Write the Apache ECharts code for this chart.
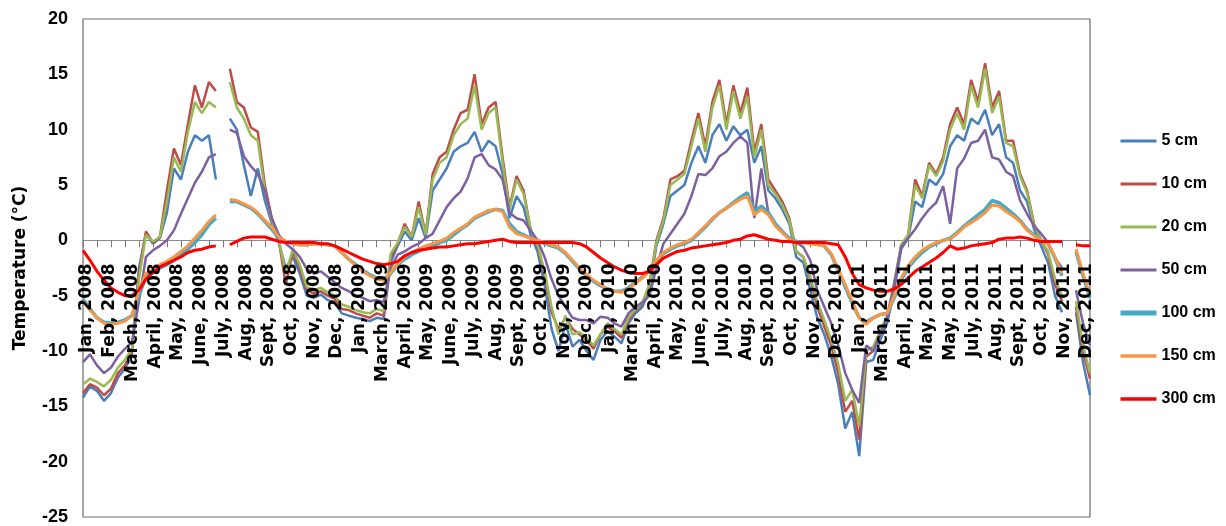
<!DOCTYPE html>
<html>
<head>
<meta charset="utf-8">
<style>
  html, body { margin: 0; padding: 0; background: #fff; }
  #chart { width: 1226px; height: 526px; }
</style>
<script src="https://cdn.jsdelivr.net/npm/echarts@6/dist/echarts.min.js"></script>
</head>
<body>
<div id="chart"></div>
<script>
// Month labels printed along the zero line
const monthLabels = [
  'Jan, 2008', 'Feb, 2008', 'March, 2008', 'April, 2008', 'May, 2008', 'June, 2008',
  'July, 2008', 'Aug, 2008', 'Sept, 2008', 'Oct, 2008', 'Nov, 2008', 'Dec, 2008',
  'Jan, 2009', 'March, 2009', 'April, 2009', 'May, 2009', 'June, 2009', 'July, 2009',
  'Aug, 2009', 'Sept, 2009', 'Oct, 2009', 'Nov, 2009', 'Dec, 2009',
  'Jan, 2010', 'March, 2010', 'April, 2010', 'May, 2010', 'June, 2010', 'July, 2010',
  'Aug, 2010', 'Sept, 2010', 'Oct, 2010', 'Nov, 2010', 'Dec, 2010',
  'Jan, 2011', 'March, 2011', 'April, 2011', 'May, 2011', 'May, 2011', 'July, 2011',
  'Aug, 2011', 'Sept, 2011', 'Oct, 2011', 'Nov, 2011', 'Dec, 2011'
];

const yTicks = { min: -25, max: 20, step: 5 };

// Soil temperature (°C) by depth, one value per observation step
const temp5cm = [
  -14.2, -13.2, -13.6, -14.5, -13.8, -12.4, -11.6, -10.3, -2.5, 0.6,
  -0.3, 0.2, 2.5, 6.5, 5.5, 8.0, 9.5, 9.0, 9.5, 5.5,
  null, 11.0, 10.0, 6.8, 4.0, 6.5, 3.6, 1.5, -0.2, -2.5,
  -1.5, -3.0, -5.0, -5.2, -4.9, -5.4, -5.6, -6.6, -6.8, -7.0,
  -7.1, -7.3, -7.0, -7.1, -2.0, -0.5, 0.8, 0.0, 2.0, 0.2,
  4.5, 5.5, 6.5, 8.0, 8.5, 8.8, 9.8, 8.0, 9.0, 8.5,
  6.0, 2.0, 4.0, 3.0, 0.5, -1.0, -4.0, -8.0, -10.0, -7.5,
  -9.6, -9.0, -10.0, -10.8, -9.0, -8.2, -8.7, -9.3, -7.5, -6.6,
  -6.0, -4.5, -0.5, 1.5, 4.0, 4.5, 5.0, 7.0, 8.5, 7.0,
  9.5, 10.5, 9.0, 10.3, 9.5, 10.0, 7.0, 8.5, 4.5, 3.8,
  2.8, 1.5, -1.5, -2.0, -4.5, -7.0, -8.5, -10.5, -13.0, -17.0,
  -15.5, -19.5, -11.0, -10.8, -9.0, -7.5, -4.5, -0.8, 0.2, 3.5,
  3.0, 5.5, 5.0, 6.0, 8.5, 9.5, 9.0, 11.0, 10.5, 11.8,
  9.5, 10.5, 7.5, 7.0, 4.5, 3.5, 1.0, -0.5, -2.0, -5.0,
  -6.5, null, -6.5, -11.0, -14.0
];

const temp10cm = [
  -13.8, -13.0, -13.3, -14.0, -13.4, -12.0, -11.3, -10.0, -3.0, 0.8,
  -0.2, 0.3, 4.5, 8.3, 6.8, 10.5, 14.0, 12.0, 14.3, 13.5,
  null, 15.5, 12.5, 12.0, 10.2, 9.8, 5.0, 2.0, 0.0, -4.0,
  -1.0, -2.5, -4.5, -4.8, -4.6, -5.0, -5.3, -6.2, -6.3, -6.6,
  -6.8, -7.0, -6.6, -6.8, -1.5, -0.3, 1.5, 0.3, 3.5, 0.5,
  6.0, 7.5, 8.0, 10.0, 11.5, 11.8, 15.0, 10.5, 12.0, 12.5,
  7.5, 3.0, 5.8, 4.5, 1.0, -0.5, -3.0, -6.5, -8.0, -7.0,
  -8.0, -8.5, -9.0, -9.8, -8.5, -7.8, -8.2, -8.8, -7.2, -6.3,
  -5.7, -4.0, 0.0, 2.0, 5.5, 5.8, 6.3, 9.0, 11.5, 8.5,
  12.5, 14.5, 10.5, 14.0, 11.5, 13.8, 8.0, 10.5, 5.5, 4.5,
  3.5, 2.0, -1.0, -1.5, -3.5, -6.0, -7.8, -9.5, -12.0, -15.5,
  -14.5, -18.0, -10.5, -10.0, -8.5, -7.0, -4.0, -0.5, 0.5, 5.5,
  4.0, 7.0, 6.0, 7.5, 10.5, 12.0, 10.5, 14.5, 12.5, 16.0,
  12.0, 13.5, 9.0, 9.0, 6.0, 4.5, 1.5, 0.0, -1.2, -4.0,
  -5.5, null, -6.0, -10.0, -12.5
];

const temp20cm = [
  -13.0, -12.5, -12.8, -13.2, -12.6, -11.5, -10.8, -9.8, -3.5, 0.5,
  -0.1, 0.3, 3.5, 7.5, 6.2, 9.8, 12.5, 11.5, 12.5, 12.0,
  null, 14.3, 12.0, 11.0, 9.5, 9.0, 4.5, 1.8, 0.0, -3.0,
  -0.8, -2.2, -4.2, -4.5, -4.3, -4.7, -5.0, -5.8, -6.0, -6.3,
  -6.5, -6.6, -6.2, -6.4, -1.2, -0.2, 1.2, 0.3, 3.0, 0.5,
  5.5, 7.0, 7.5, 9.5, 10.5, 11.0, 14.0, 10.0, 11.5, 12.0,
  7.0, 2.8, 5.5, 4.2, 1.0, -0.4, -2.8, -6.0, -8.5, -6.8,
  -8.5, -8.3, -8.8, -9.5, -8.5, -7.5, -8.0, -8.5, -7.0, -6.2,
  -5.6, -4.0, -0.2, 1.8, 5.0, 5.5, 6.0, 8.5, 11.0, 8.0,
  12.0, 14.0, 10.0, 13.5, 11.0, 13.0, 7.5, 10.0, 5.0, 4.2,
  3.2, 1.8, -1.0, -1.5, -3.3, -5.5, -7.2, -9.0, -11.2, -14.5,
  -13.5, -16.8, -10.0, -9.6, -8.2, -6.8, -3.8, -0.4, 0.5, 5.0,
  3.8, 6.8, 5.8, 7.2, 10.0, 11.5, 10.0, 14.0, 12.0, 15.5,
  11.5, 13.0, 8.8, 8.5, 5.8, 4.3, 1.4, 0.0, -1.0, -3.5,
  -5.0, null, -5.5, -9.5, -12.0
];

const temp50cm = [
  -11.0, -10.3, -11.3, -12.0, -11.5, -10.5, -9.8, -9.2, -5.5, -1.5,
  -0.9, -0.5, 0.0, 0.9, 2.4, 3.8, 5.2, 6.2, 7.5, 7.8,
  null, 10.0, 9.7, 7.6, 6.7, 6.0, 4.5, 2.0, 0.5, -0.3,
  -0.8, -1.5, -2.6, -3.0, -2.8, -3.3, -3.8, -4.3, -4.6, -5.0,
  -5.2, -5.5, -5.4, -5.6, -2.5, -1.3, -1.0, -0.6, -0.3, 0.2,
  0.6, 1.8, 3.0, 3.8, 4.4, 5.6, 7.5, 7.8, 6.8, 6.4,
  5.5, 2.5, 2.0, 1.8, 0.9, 0.0, -1.5, -3.5, -5.0, -6.0,
  -7.0, -7.2, -7.2, -7.5, -6.9, -7.0, -7.5, -7.8, -6.6, -6.0,
  -5.6, -5.0, -2.5, -0.3, 0.6, 1.5, 2.4, 4.0, 6.0, 5.9,
  6.5, 7.6, 8.0, 8.8, 9.4, 8.8, 2.0, 6.5, 2.5, 1.5,
  0.8, 0.1, -0.2, -0.6, -1.8, -4.5, -6.0, -7.5, -9.5, -12.0,
  -13.5, -14.7, -9.5, -10.0, -8.5, -7.0, -4.0, -0.6, 0.2, 1.0,
  2.0, 2.8, 3.4, 4.9, 1.5, 6.5, 7.4, 8.8, 9.0, 10.0,
  7.5, 7.3, 6.2, 5.8, 3.6, 2.4, 1.3, 0.6, -0.2, -1.6,
  -2.5, null, -4.5, -7.5, -9.5
];

const temp100cm = [
  -5.3, -6.2, -7.0, -7.4, -7.5, -7.4, -7.2, -6.8, -5.0, -3.3,
  -2.9, -2.5, -2.2, -1.8, -1.3, -0.8, -0.2, 0.5, 1.4, 2.0,
  null, 3.5, 3.5, 3.2, 2.9, 2.4, 1.7, 1.0, 0.2, -0.1,
  -0.3, -0.4, -0.4, -0.3, -0.3, -0.4, -0.5, -1.1, -1.7, -2.2,
  -2.7, -3.1, -3.4, -3.5, -3.0, -2.2, -1.7, -1.3, -1.0, -0.7,
  -0.5, -0.2, 0.0, 0.5, 1.0, 1.4, 2.0, 2.3, 2.6, 2.8,
  2.7, 1.5, 0.8, 0.5, 0.2, 0.0, -0.3, -0.5, -0.7, -1.2,
  -1.9, -2.6, -3.2, -3.7, -4.1, -4.4, -4.6, -4.6, -4.3, -3.8,
  -3.3, -2.7, -1.9, -1.2, -0.8, -0.5, -0.3, 0.0, 0.6, 1.2,
  1.9, 2.5, 2.9, 3.4, 3.9, 4.3, 2.6, 3.1, 2.5, 1.5,
  0.8, 0.2, -0.1, -0.2, -0.2, -0.3, -0.5, -1.3, -2.7, -4.2,
  -5.7, -7.0, -7.4, -7.0, -6.7, -6.6, -5.2, -3.6, -2.5, -1.7,
  -1.1, -0.6, -0.3, 0.0, 0.2, 0.7, 1.3, 1.8, 2.3, 2.8,
  3.6, 3.4, 2.9, 2.4, 1.8, 1.0, 0.5, 0.0, -0.3, -1.6,
  -3.2, null, -1.0, -3.2, -5.2
];

const temp150cm = [
  -5.5, -6.3, -7.0, -7.5, -7.6, -7.5, -7.3, -6.8, -4.5, -3.0,
  -2.6, -2.2, -1.9, -1.5, -1.0, -0.5, 0.2, 0.9, 1.7, 2.3,
  null, 3.7, 3.6, 3.3, 3.0, 2.5, 1.8, 1.2, 0.3, -0.1,
  -0.3, -0.4, -0.4, -0.3, -0.3, -0.4, -0.5, -1.1, -1.7, -2.3,
  -2.8, -3.2, -3.5, -3.6, -2.9, -2.1, -1.5, -1.1, -0.8, -0.5,
  -0.3, -0.1, 0.2, 0.7, 1.1, 1.5, 2.1, 2.4, 2.7, 2.8,
  2.6, 1.2, 0.6, 0.4, 0.2, 0.0, -0.2, -0.4, -0.6, -1.1,
  -1.8, -2.5, -3.1, -3.6, -4.0, -4.4, -4.6, -4.7, -4.4, -3.9,
  -3.4, -2.8, -1.8, -1.1, -0.7, -0.4, -0.2, 0.1, 0.7, 1.3,
  2.0, 2.5, 2.9, 3.3, 3.7, 4.0, 2.3, 2.8, 2.3, 1.3,
  0.7, 0.1, -0.2, -0.2, -0.3, -0.4, -0.5, -1.2, -2.6, -4.0,
  -5.5, -7.0, -7.6, -7.0, -6.7, -6.6, -5.0, -3.4, -2.3, -1.5,
  -0.9, -0.5, -0.2, 0.0, 0.1, 0.6, 1.2, 1.6, 2.0, 2.5,
  3.2, 3.1, 2.6, 2.2, 1.7, 0.9, 0.4, 0.0, -0.3, -1.5,
  -3.0, null, -0.8, -3.0, -5.0
];

const temp300cm = [
  -0.9, -1.8, -2.8, -3.6, -4.3, -4.7, -5.0, -5.0, -4.5, -3.5,
  -2.9, -2.4, -2.1, -1.8, -1.5, -1.1, -0.9, -0.8, -0.6, -0.5,
  null, -0.4, -0.1, 0.2, 0.3, 0.3, 0.3, 0.1, -0.1, -0.2,
  -0.2, -0.2, -0.2, -0.2, -0.3, -0.3, -0.5, -0.8, -1.1, -1.4,
  -1.7, -1.9, -2.1, -2.2, -2.1, -1.9, -1.4, -1.1, -0.9, -0.8,
  -0.7, -0.6, -0.6, -0.5, -0.4, -0.3, -0.3, -0.2, -0.1, 0.0,
  0.1, -0.1, -0.2, -0.2, -0.2, -0.2, -0.2, -0.2, -0.2, -0.2,
  -0.2, -0.3, -0.6, -1.1, -1.6, -2.0, -2.4, -2.7, -2.9, -3.0,
  -3.0, -2.8, -2.2, -1.6, -1.3, -1.0, -0.9, -0.7, -0.6, -0.5,
  -0.4, -0.3, -0.2, 0.0, 0.1, 0.4, 0.5, 0.3, 0.1, 0.0,
  -0.1, -0.1, -0.2, -0.2, -0.2, -0.2, -0.2, -0.3, -0.4, -1.5,
  -3.0, -4.0, -4.3, -4.5, -4.6, -4.6, -4.4, -4.0, -3.4, -2.8,
  -2.4, -2.0, -1.6, -1.1, -0.5, -0.8, -0.7, -0.5, -0.4, -0.3,
  -0.2, 0.1, 0.2, 0.2, 0.3, 0.2, 0.0, -0.1, -0.1, -0.1,
  -0.1, null, -0.4, -0.5, -0.5
];

const depthSeries = [
  { name: '5 cm',   data: temp5cm,   color: '#4a7ebb', width: 2.5, keyWidth: 3 },
  { name: '10 cm',  data: temp10cm,  color: '#be4b48', width: 2.5, keyWidth: 3 },
  { name: '20 cm',  data: temp20cm,  color: '#98b954', width: 2.5, keyWidth: 3 },
  { name: '50 cm',  data: temp50cm,  color: '#7d60a0', width: 2.5, keyWidth: 3 },
  { name: '100 cm', data: temp100cm, color: '#46aac5', width: 3.5, keyWidth: 5 },
  { name: '150 cm', data: temp150cm, color: '#f79646', width: 3, keyWidth: 3.5 },
  { name: '300 cm', data: temp300cm, color: '#ff0000', width: 3, keyWidth: 3.5 }
];

const steps = temp5cm.map((_, i) => i);

const chart = echarts.init(document.getElementById('chart'), null, { renderer: 'canvas' });

const chartHeight = 526;
const gridTop = 19, gridBottom = 9;
const plotHeight = chartHeight - gridTop - gridBottom;
// The month labels hang from the 0 °C line, so their grid ends there
const zeroFromBottom = gridBottom + plotHeight * (0 - yTicks.min) / (yTicks.max - yTicks.min);

chart.setOption({
  animation: false,
  backgroundColor: '#ffffff',
  grid: [
    { left: 83, right: 136, top: gridTop, bottom: gridBottom, show: true,
      borderColor: '#6b6b6b', borderWidth: 1.2, backgroundColor: '#ffffff' },
    { left: 87, right: 139, top: gridTop, bottom: zeroFromBottom }
  ],
  legend: {
    orient: 'vertical',
    left: 1118,
    top: 133,
    padding: 0,
    itemWidth: 36,
    itemHeight: 14,
    itemGap: 27,
    data: depthSeries.map(s => ({ name: s.name, lineStyle: { width: s.keyWidth } })),
    itemStyle: { opacity: 0 },
    textStyle: {
      fontFamily: '"Liberation Sans", Arial, sans-serif',
      fontWeight: 'bold', fontSize: 16, color: '#000'
    }
  },
  xAxis: [
    {
      type: 'category', gridIndex: 0, data: steps, boundaryGap: false,
      axisLine: { onZero: true, lineStyle: { color: '#8c8c8c', width: 1 } },
      axisTick: { show: true, interval: 1, length: 7, lineStyle: { color: '#7a7a7a' } },
      axisLabel: { show: false },
      splitLine: { show: false }
    },
    {
      type: 'category', gridIndex: 1, data: monthLabels, boundaryGap: false, z: 10,
      position: 'bottom',
      axisLine: { show: false, onZero: false },
      axisTick: { show: false },
      axisLabel: {
        interval: 0, rotate: 90, margin: 23,
        fontFamily: '"DejaVu Sans", sans-serif', fontWeight: 'bold', fontSize: 17, color: '#000'
      },
      splitLine: { show: false }
    }
  ],
  yAxis: [
    {
      type: 'value', gridIndex: 0, min: yTicks.min, max: yTicks.max, interval: yTicks.step,
      name: 'Temperature (°C)', nameLocation: 'middle', nameGap: 54,
      nameTextStyle: { fontFamily: '"DejaVu Sans", sans-serif', fontWeight: 'bold', fontSize: 17, color: '#000' },
      axisLine: { show: true, lineStyle: { color: '#a6a6a6', width: 1 } },
      axisTick: { show: false },
      axisLabel: { margin: 15, fontFamily: '"Liberation Sans", Arial, sans-serif', fontWeight: 'bold', fontSize: 18, color: '#000' },
      splitLine: { show: false }
    },
    {
      type: 'value', gridIndex: 1, min: 0, max: yTicks.max,
      axisLine: { show: false }, axisTick: { show: false }, axisLabel: { show: false },
      splitLine: { show: false }
    }
  ],
  series: depthSeries.map(s => ({
    name: s.name,
    type: 'line',
    xAxisIndex: 0,
    yAxisIndex: 0,
    data: s.data,
    symbol: 'none',
    connectNulls: false,
    color: s.color,
    lineStyle: { color: s.color, width: s.width }
  }))
});
</script>
</body>
</html>
